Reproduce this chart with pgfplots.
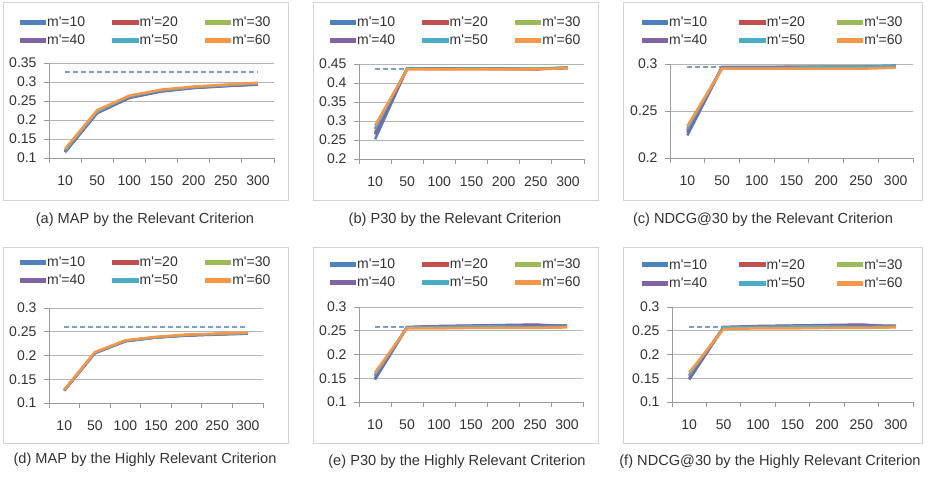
\documentclass[border=0pt]{standalone}
\usepackage{pgfplots}
\pgfplotsset{compat=1.18}
\usepackage{pgfplotstable}
\usepackage{fontspec}
\setmainfont{Liberation Sans}

\definecolor{cB}{HTML}{4F81BD}
\definecolor{cR}{HTML}{C0504D}
\definecolor{cG}{HTML}{9BBB59}
\definecolor{cP}{HTML}{8064A2}
\definecolor{cA}{HTML}{4BACC6}
\definecolor{cO}{HTML}{F79646}
\definecolor{cBase}{HTML}{7E9CC8}
\definecolor{gridgray}{HTML}{B4B4B4}
\definecolor{axisgray}{HTML}{9A9A9A}
\definecolor{boxgray}{HTML}{D4D4D4}
\definecolor{txt}{HTML}{333333}

% x = category centre (10,50,100,...,300 -> 0.5 ... 6.5)
\pgfplotstableread{
x   m10   m20   m30   m40   m50   m60   base
0.5 0.115 0.118 0.119 0.117 0.120 0.124 0.327
1.5 0.218 0.220 0.221 0.219 0.222 0.226 0.327
2.5 0.258 0.260 0.261 0.259 0.262 0.264 0.327
3.5 0.275 0.277 0.277 0.276 0.278 0.280 0.327
4.5 0.284 0.285 0.286 0.285 0.286 0.288 0.327
5.5 0.289 0.290 0.291 0.290 0.291 0.293 0.327
6.5 0.293 0.294 0.295 0.294 0.296 0.298 0.327
}\tabA
\pgfplotstableread{
x   m10   m20   m30   m40   m50   m60   base
0.5 0.252 0.270 0.278 0.265 0.280 0.288 0.436
1.5 0.438 0.438 0.439 0.438 0.438 0.436 0.436
2.5 0.438 0.437 0.438 0.438 0.437 0.436 0.436
3.5 0.438 0.438 0.438 0.437 0.438 0.436 0.436
4.5 0.437 0.438 0.437 0.437 0.437 0.436 0.436
5.5 0.437 0.437 0.438 0.436 0.437 0.436 0.436
6.5 0.440 0.440 0.441 0.440 0.440 0.439 0.436
}\tabB
\pgfplotstableread{
x   m10   m20   m30   m40   m50   m60   base
0.5 0.224 0.229 0.230 0.227 0.231 0.234 0.297
1.5 0.296 0.296 0.296 0.297 0.296 0.295 0.297
2.5 0.296 0.296 0.296 0.297 0.296 0.295 0.297
3.5 0.297 0.296 0.297 0.297 0.296 0.295 0.297
4.5 0.297 0.297 0.297 0.297 0.297 0.295 0.297
5.5 0.297 0.297 0.297 0.297 0.297 0.295 0.297
6.5 0.298 0.298 0.298 0.298 0.298 0.296 0.297
}\tabC
\pgfplotstableread{
x   m10   m20   m30   m40   m50   m60   base
0.5 0.126 0.127 0.127 0.126 0.127 0.128 0.259
1.5 0.205 0.206 0.206 0.205 0.206 0.207 0.259
2.5 0.230 0.231 0.231 0.230 0.231 0.232 0.259
3.5 0.238 0.238 0.239 0.238 0.238 0.239 0.259
4.5 0.242 0.243 0.243 0.242 0.243 0.244 0.259
5.5 0.245 0.245 0.245 0.244 0.245 0.246 0.259
6.5 0.246 0.247 0.247 0.246 0.247 0.248 0.259
}\tabD
\pgfplotstableread{
x   m10   m20   m30   m40   m50   m60   base
0.5 0.147 0.155 0.156 0.150 0.157 0.162 0.2585
1.5 0.257 0.257 0.256 0.258 0.257 0.255 0.2585
2.5 0.259 0.258 0.258 0.260 0.258 0.255 0.2585
3.5 0.260 0.260 0.259 0.261 0.259 0.256 0.2585
4.5 0.261 0.260 0.260 0.262 0.259 0.256 0.2585
5.5 0.262 0.259 0.259 0.263 0.258 0.256 0.2585
6.5 0.260 0.261 0.260 0.260 0.259 0.257 0.2585
}\tabE
\pgfplotstableread{
x   m10   m20   m30   m40   m50   m60   base
0.5 0.147 0.155 0.156 0.150 0.157 0.162 0.258
1.5 0.257 0.257 0.256 0.258 0.257 0.254 0.258
2.5 0.259 0.258 0.258 0.260 0.258 0.255 0.258
3.5 0.260 0.260 0.259 0.261 0.259 0.255 0.258
4.5 0.261 0.260 0.260 0.262 0.259 0.256 0.258
5.5 0.262 0.259 0.259 0.263 0.258 0.256 0.258
6.5 0.259 0.261 0.260 0.259 0.259 0.257 0.258
}\tabF

\newcommand{\fs}{\fontsize{14}{16}\selectfont}
\newcommand{\fc}{\fontsize{14.6}{16}\selectfont}

\pgfplotsset{
  panel/.style={
    scale only axis,
    anchor=south west,
    xmin=0, xmax=7,
    xtick={0,...,7},
    x tick label as interval,
    xticklabels={10,50,100,150,200,250,300},
    axis lines*=left,
    axis line style={draw=axisgray, line width=0.8pt},
    tick style={draw=axisgray, line width=0.8pt},
    tick align=outside,
    major tick length=5pt,
    ymajorgrids,
    grid style={draw=gridgray, line width=0.8pt},
    tick label style={font=\fs, text=txt},
    xticklabel style={yshift=-9pt},
    yticklabel style={xshift=-4pt},
    legend columns=3,
    legend cell align=left,
    legend style={draw=none, fill=none, font=\fs, text=txt, anchor=center,
      nodes={inner xsep=1pt},
      /tikz/every even column/.append style={column sep=26pt},
      /tikz/every odd row/.append style={row sep=3pt}},
    legend image code/.code={\fill[##1] (0pt,-1.3pt) rectangle (24pt,1.3pt);},
    clip=false,
  },
  ser/.style={#1, solid, line width=2.5pt},
  base/.style={draw=cBase, line width=2pt, dash pattern=on 5pt off 3pt, forget plot},
}

\newcommand{\panelplots}[1]{%
  \addplot[base] table[x=x, y=base] {#1};
  \addplot[ser=cB] table[x=x, y=m10] {#1}; \addlegendentry{m\textquotesingle=10}
  \addplot[ser=cR] table[x=x, y=m20] {#1}; \addlegendentry{m\textquotesingle=20}
  \addplot[ser=cG] table[x=x, y=m30] {#1}; \addlegendentry{m\textquotesingle=30}
  \addplot[ser=cP] table[x=x, y=m40] {#1}; \addlegendentry{m\textquotesingle=40}
  \addplot[ser=cA] table[x=x, y=m50] {#1}; \addlegendentry{m\textquotesingle=50}
  \addplot[ser=cO] table[x=x, y=m60] {#1}; \addlegendentry{m\textquotesingle=60}
}

\begin{document}
\begin{tikzpicture}
\fill[white] (0,0) rectangle (935pt,481pt);
\useasboundingbox (0,0) rectangle (935pt,481pt);

% chart frames
\draw[boxgray, line width=0.8pt] (3pt,281pt) rectangle (288pt,479pt);
\draw[boxgray, line width=0.8pt] (313pt,281pt) rectangle (598pt,479pt);
\draw[boxgray, line width=0.8pt] (623pt,281pt) rectangle (922pt,479pt);
\draw[boxgray, line width=0.8pt] (3pt,38pt) rectangle (288pt,234pt);
\draw[boxgray, line width=0.8pt] (313pt,38pt) rectangle (598pt,234pt);
\draw[boxgray, line width=0.8pt] (623pt,38pt) rectangle (922pt,234pt);

% (a)
\begin{axis}[panel, at={(49pt,323pt)}, width=225pt, height=95pt,
  ymin=0.1, ymax=0.35, ytick={0.1,0.15,0.2,0.25,0.3,0.35},
  yticklabels={0.1,0.15,0.2,0.25,0.3,0.35},
  legend style={at={(0.429,1.332)}}]
\panelplots{\tabA}
\end{axis}

% (b)
\begin{axis}[panel, at={(359pt,322pt)}, width=225pt, height=95pt,
  ymin=0.2, ymax=0.45, ytick={0.2,0.25,0.3,0.35,0.4,0.45},
  yticklabels={0.2,0.25,0.3,0.35,0.4,0.45},
  legend style={at={(0.429,1.342)}}]
\panelplots{\tabB}
\end{axis}

% (c)
\begin{axis}[panel, at={(670pt,323pt)}, width=243pt, height=94pt,
  ymin=0.2, ymax=0.3, ytick={0.2,0.25,0.3},
  yticklabels={0.2,0.25,0.3},
  legend style={at={(0.422,1.346)},
    /tikz/every even column/.append style={column sep=31pt}}]
\panelplots{\tabC}
\end{axis}

% (d)
\begin{axis}[panel, at={(49pt,78pt)}, width=214pt, height=95pt,
  ymin=0.1, ymax=0.3, ytick={0.1,0.15,0.2,0.25,0.3},
  yticklabels={0.1,0.15,0.2,0.25,0.3},
  legend style={at={(0.451,1.384)}}]
\panelplots{\tabD}
\end{axis}

% (e)
\begin{axis}[panel, at={(359pt,79pt)}, width=224pt, height=95pt,
  ymin=0.1, ymax=0.3, ytick={0.1,0.15,0.2,0.25,0.3},
  yticklabels={0.1,0.15,0.2,0.25,0.3},
  legend style={at={(0.431,1.355)}}]
\panelplots{\tabE}
\end{axis}

% (f)
\begin{axis}[panel, at={(672pt,79pt)}, width=241pt, height=95pt,
  ymin=0.1, ymax=0.3, ytick={0.1,0.15,0.2,0.25,0.3},
  yticklabels={0.1,0.15,0.2,0.25,0.3},
  legend style={at={(0.417,1.347)},
    /tikz/every even column/.append style={column sep=31pt}}]
\panelplots{\tabF}
\end{axis}

% captions
\node[font=\fc, text=txt] at (145pt,261pt) {(a) MAP by the Relevant Criterion};
\node[font=\fc, text=txt] at (455pt,261pt) {(b) P30 by the Relevant Criterion};
\node[font=\fc, text=txt] at (763pt,261pt) {(c) NDCG@30 by the Relevant Criterion};
\node[font=\fc, text=txt] at (145pt,21pt) {(d) MAP by the Highly Relevant Criterion};
\node[font=\fc, text=txt] at (457pt,19pt) {(e) P30 by the Highly Relevant Criterion};
\node[font=\fc, text=txt] at (770pt,19pt) {(f) NDCG@30 by the Highly Relevant Criterion};
\end{tikzpicture}
\end{document}
